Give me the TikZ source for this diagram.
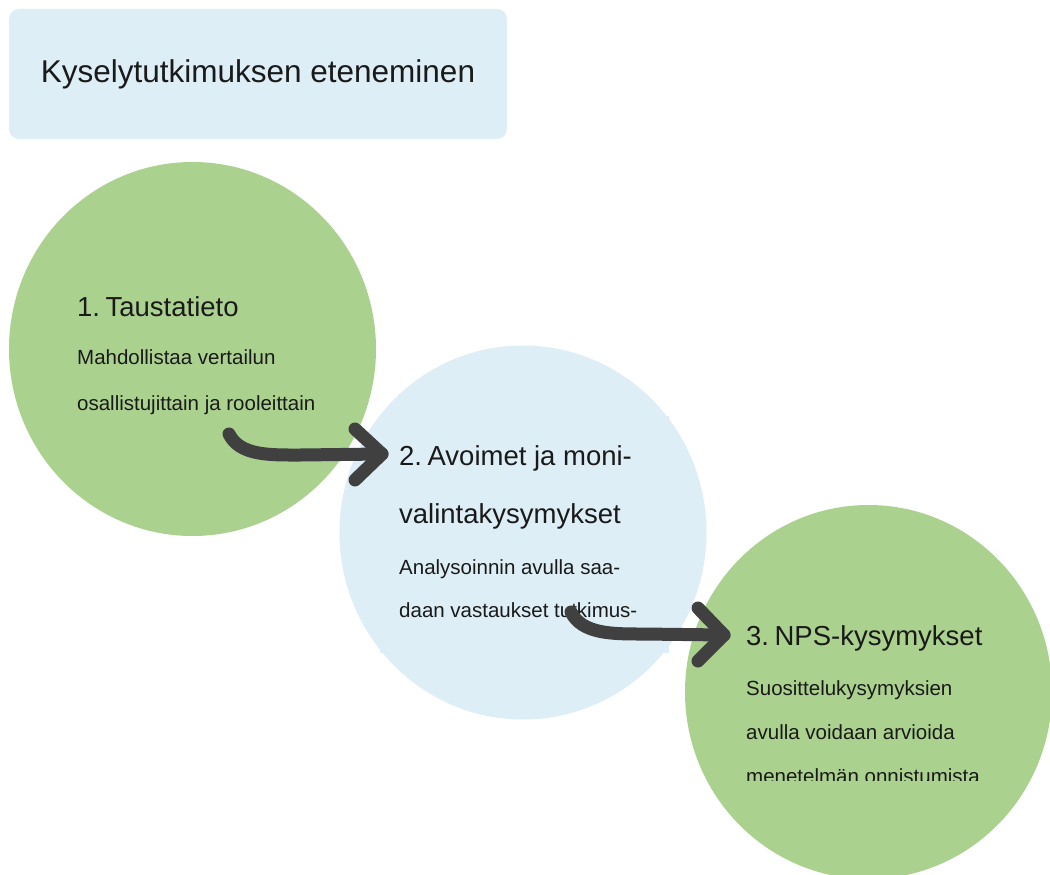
\documentclass[tikz,border=0pt]{standalone}
\usepackage{fontspec}
\setmainfont{Liberation Sans}
\usetikzlibrary{calc,shapes.geometric}
\newcommand{\numgap}{\hspace{0.2em}}
\begin{document}
\begin{tikzpicture}[x=1pt,y=-1pt,
  leafgreen/.style={fill={rgb,255:red,171;green,209;blue,143}},
  paleblue/.style={fill={rgb,255:red,221;green,238;blue,246}},
  stage/.style={ellipse,draw=none,minimum width=367pt,minimum height=374pt,inner sep=0pt},
  heading/.style={anchor=base west,inner sep=0pt,text={rgb,255:red,26;green,26;blue,26},font=\fontsize{27.5}{27.5}\selectfont},
  body/.style={anchor=base west,inner sep=0pt,text={rgb,255:red,26;green,26;blue,26},font=\fontsize{20.5}{20.5}\selectfont},
  flow/.style={line width=13pt,line cap=round,line join=round,draw={rgb,255:red,64;green,64;blue,64}}]
\useasboundingbox (0,0) rectangle (1050,875);
\fill[white] (0,0) rectangle (1050,875);

% title box
\node[paleblue,rounded corners=10pt,minimum width=498pt,minimum height=130pt,inner sep=0pt,
  font=\fontsize{31.5}{31.5}\selectfont,text={rgb,255:red,26;green,26;blue,26}] (title) at (258,74) {Kyselytutkimuksen eteneminen};

% stage circles
\node[stage,leafgreen] (c1) at (192.5,349) {};
\fill[paleblue] (380,416) rectangle (669,653);
\node[stage,paleblue] (c2) at (523,532.5) {};
\begin{scope}
\clip (0,0) rectangle (1050,875);
\node[stage,leafgreen] (c3) at (868.5,692) {};
\end{scope}

% stage 1 text
\node[heading] (h1) at (77,316) {1.\numgap Taustatieto};
\node[body] (b1a) at (77,364) {Mahdollistaa vertailun};
\node[body] (b1b) at (77,410) {osallistujittain ja rooleittain};

% stage 2 text
\node[heading] (h2a) at (399,465) {2.\numgap Avoimet ja moni-};
\node[heading] (h2b) at (399,523) {valintakysymykset};
\node[body] (b2a) at (399,574) {Analysoinnin avulla saa-};
\node[body] (b2b) at (399,617) {daan vastaukset tutkimus-};

% stage 3 text
\node[heading] (h3) at (746,645) {3.\numgap NPS-kysymykset};
\node[body] (b3a) at (746,695) {Suosittelukysymyksien};
\node[body] (b3b) at (746,739) {avulla voidaan arvioida};
\begin{scope}
\clip (700,700) rectangle (1050,780);
\node[body] (b3c) at (746,783) {menetelmän onnistumista};
\end{scope}

% connectors
\coordinate (a1s) at (229,434);
\coordinate (a1e) at (382,454);
\coordinate (a2s) at (571,612);
\coordinate (a2e) at (724,635);
\draw[flow] (a1s) .. controls (240,456) and (270,455) .. (300,455) -- (a1e);
\draw[flow] ($(a1e)+(-27,-25)$) -- (a1e) -- ($(a1e)+(-27,26)$);
\draw[flow] (a2s) .. controls (582,634) and (612,634) .. (642,634) -- (a2e);
\draw[flow] ($(a2e)+(-26,-27)$) -- (a2e) -- ($(a2e)+(-26,26)$);
\end{tikzpicture}
\end{document}
